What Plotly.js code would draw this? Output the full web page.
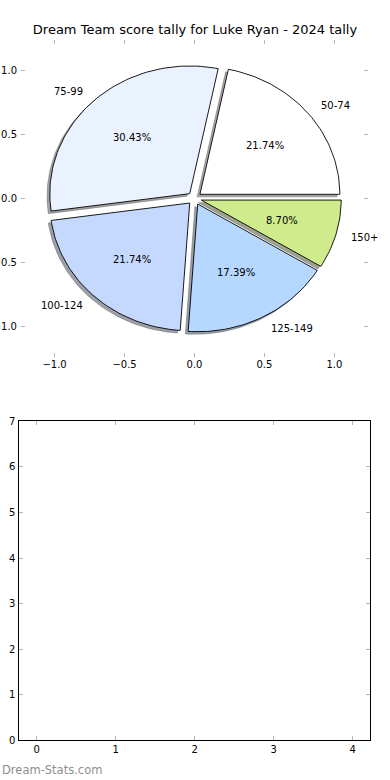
<!DOCTYPE html>
<html>
<head>
<meta charset="utf-8">
<script src="https://cdn.plot.ly/plotly-3.0.1.min.js"></script>
<style>
  html, body { margin: 0; padding: 0; background: #fff; }
  #chart { width: 390px; height: 780px; }
</style>
</head>
<body>
<div id="chart"></div>
<script>
// ---- data ----
const categories = ['50-74', '75-99', '100-124', '125-149', '150+'];
const counts = [5, 7, 5, 4, 2];
const sliceColors = ['#ffffff', '#eaf1ff', '#c5d9ff', '#b6d7ff', '#cfeb8b'];
const explode = [0.05, 0.05, 0.05, 0.05, 0.05];
const pieTicks = [-1.0, -0.5, 0.0, 0.5, 1.0];
const emptyXTicks = [0, 1, 2, 3, 4];
const emptyYTicks = [0, 1, 2, 3, 4, 5, 6, 7];
const titleText = 'Dream Team score tally for Luke Ryan - 2024 tally';

// ---- build pie wedges (matplotlib-style: start at 0°, counter-clockwise) ----
const total = counts.reduce((a, b) => a + b, 0);
const FONT = 'DejaVu Sans, Verdana, sans-serif';
const shadowOffset = -0.02;
const traces = [];
const shadowTraces = [];
const annotations = [];
let acc = 0;

function hexToRgb(h) {
  const n = parseInt(h.slice(1), 16);
  return [(n >> 16) & 255, (n >> 8) & 255, n & 255];
}

counts.forEach((v, i) => {
  const t1 = acc / total * 360;
  acc += v;
  const t2 = acc / total * 360;
  const tm = (t1 + t2) / 2 * Math.PI / 180;
  const cx = explode[i] * Math.cos(tm);
  const cy = explode[i] * Math.sin(tm);
  const xs = [cx], ys = [cy];
  const n = Math.max(8, Math.ceil((t2 - t1) / 1.5));
  for (let k = 0; k <= n; k++) {
    const a = (t1 + (t2 - t1) * k / n) * Math.PI / 180;
    xs.push(cx + Math.cos(a));
    ys.push(cy + Math.sin(a));
  }
  xs.push(cx); ys.push(cy);

  const rgb = hexToRgb(sliceColors[i]).map(c => Math.round(c * 0.3));
  shadowTraces.push({
    type: 'scatter', mode: 'lines', xaxis: 'x', yaxis: 'y',
    x: xs.map(x => x + shadowOffset), y: ys.map(y => y + shadowOffset),
    fill: 'toself', fillcolor: `rgba(${rgb[0]},${rgb[1]},${rgb[2]},0.5)`,
    line: { color: `rgba(${rgb[0]},${rgb[1]},${rgb[2]},0.35)`, width: 1 },
    hoverinfo: 'skip', showlegend: false
  });
  traces.push({
    type: 'scatter', mode: 'lines', xaxis: 'x', yaxis: 'y',
    x: xs, y: ys, fill: 'toself', fillcolor: sliceColors[i],
    line: { color: '#000000', width: 0.9 },
    name: categories[i], hoverinfo: 'skip', showlegend: false
  });

  // category label (labeldistance 1.1)
  const lx = cx + 1.1 * Math.cos(tm);
  const ly = cy + 1.1 * Math.sin(tm);
  annotations.push({
    xref: 'x', yref: 'y', x: lx, y: ly, text: categories[i], showarrow: false,
    xanchor: lx > 0 ? 'left' : 'right', yanchor: 'middle',
    font: { family: FONT, size: 10, color: '#000' }
  });
  // percentage label (pctdistance 0.6)
  const px = cx + 0.6 * Math.cos(tm);
  const py = cy + 0.6 * Math.sin(tm);
  annotations.push({
    xref: 'x', yref: 'y', x: px, y: py,
    text: (v / total * 100).toFixed(2) + '%', showarrow: false,
    xanchor: 'center', yanchor: 'middle',
    font: { family: FONT, size: 10, color: '#000' }
  });
});

annotations.push({
  xref: 'paper', yref: 'paper', x: 0, y: 1 - 770 / 780,
  xanchor: 'left', yanchor: 'middle', showarrow: false,
  text: 'Dream-Stats.com',
  font: { family: FONT, size: 11.5, color: '#8e8e8e' }
});

const emptyTrace = {
  type: 'scatter', mode: 'markers', x: [], y: [], xaxis: 'x2', yaxis: 'y2',
  hoverinfo: 'skip', showlegend: false
};

const tickFont = { family: FONT, size: 10, color: '#000' };
const baseAxis = {
  showgrid: false, zeroline: false, ticks: 'inside', ticklen: 4,
  tickwidth: 1, tickcolor: '#b4b4b4', tickfont: tickFont, fixedrange: true
};

const layout = {
  width: 390, height: 780,
  margin: { l: 0, r: 0, t: 0, b: 0 },
  paper_bgcolor: '#ffffff', plot_bgcolor: 'rgba(0,0,0,0)',
  font: { family: FONT, color: '#000' },
  showlegend: false,
  title: {
    text: titleText, x: 0.5, xanchor: 'center', xref: 'paper',
    y: 1 - 29 / 780, yanchor: 'middle',
    font: { family: FONT, size: 13, color: '#000' }
  },
  xaxis: Object.assign({}, baseAxis, {
    domain: [21 / 390, 368 / 390], range: [-1.24, 1.24],
    tickvals: pieTicks, tickformat: '.1f', showline: false, mirror: 'ticks',
    anchor: 'y'
  }),
  yaxis: Object.assign({}, baseAxis, {
    domain: [1 - 356.7 / 780, 1 - 40 / 780], range: [-1.24, 1.24],
    tickvals: pieTicks, tickformat: '.1f', showline: false, mirror: 'ticks',
    anchor: 'x', ticklabelstandoff: 3
  }),
  xaxis2: Object.assign({}, baseAxis, {
    domain: [19.3 / 390, 370 / 390], range: [-0.22, 4.22],
    tickvals: emptyXTicks, showline: true, linecolor: '#000', linewidth: 1,
    mirror: 'all', anchor: 'y2'
  }),
  yaxis2: Object.assign({}, baseAxis, {
    domain: [1 - 740.3 / 780, 1 - 421.3 / 780], range: [0, 7],
    tickvals: emptyYTicks, showline: true, linecolor: '#000', linewidth: 1,
    mirror: 'all', anchor: 'x2', ticklabelstandoff: 1
  }),
  annotations: annotations
};

Plotly.newPlot('chart', shadowTraces.concat(traces, [emptyTrace]), layout,
  { staticPlot: true, displayModeBar: false });
</script>
</body>
</html>
